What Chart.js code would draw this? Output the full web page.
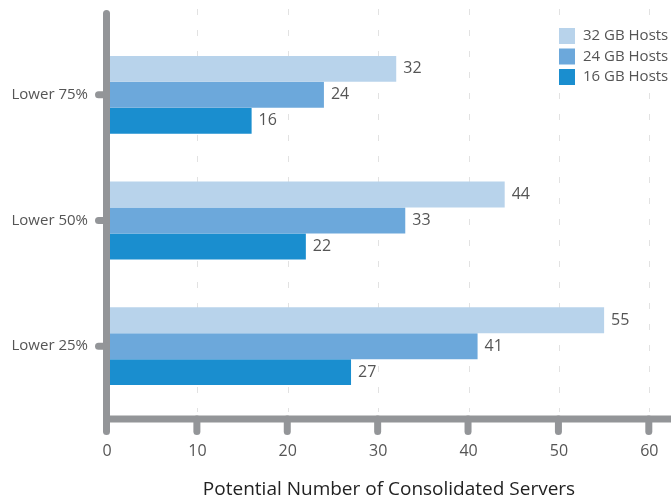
<!DOCTYPE html>
<html>
<head>
<meta charset="utf-8">
<script src="https://cdn.jsdelivr.net/npm/chart.js@4/dist/chart.umd.min.js"></script>
<style>
  body { margin: 0; background: #fff; }
  #wrap { width: 671px; height: 502px; position: relative; }
</style>
</head>
<body>
<div id="wrap"><canvas id="myChartServers"></canvas></div>
<script>
// datos
var categories = ['Lower 75%', 'Lower 50%', 'Lower 25%'];
var seriesLabels = ['32 GB Hosts', '24 GB Hosts', '16 GB Hosts'];
var hosts32 = [32, 44, 55];
var hosts24 = [24, 33, 41];
var hosts16 = [16, 22, 27];
var axisTitle = 'Potential Number of Consolidated Servers';

var axisGray = '#939598';
var textGray = '#555555';

Chart.defaults.font.family = "'Open Sans', sans-serif";

// ejes gruesos, lineas punteadas, etiquetas de valor y leyenda
var framePlugin = {
    id: 'frame',
    beforeDatasetsDraw: function (chart) {
        var ctx = chart.ctx, area = chart.chartArea, x = chart.scales.x;
        ctx.save();
        ctx.strokeStyle = '#e2e2e2';
        ctx.lineWidth = 1;
        ctx.setLineDash([6, 15]);
        x.ticks.forEach(function (t) {
            if (t.value === 0) return;
            var px = Math.round(x.getPixelForValue(t.value)) + 0.5;
            ctx.beginPath();
            ctx.moveTo(px, area.top - 23);
            ctx.lineTo(px, area.bottom + 3);
            ctx.stroke();
        });
        ctx.restore();
    },
    afterDatasetsDraw: function (chart) {
        var ctx = chart.ctx, area = chart.chartArea;
        var x = chart.scales.x, y = chart.scales.y;
        var axisX = area.left - 0.5;
        var axisY = area.bottom + 10;

        ctx.save();
        ctx.strokeStyle = axisGray;
        ctx.lineWidth = 7;
        ctx.lineCap = 'round';

        // eje vertical
        ctx.beginPath();
        ctx.moveTo(axisX, area.top - 18.5);
        ctx.lineTo(axisX, axisY);
        ctx.stroke();

        // marcas de categoria
        y.ticks.forEach(function (t, i) {
            var py = y.getPixelForTick(i);
            ctx.beginPath();
            ctx.moveTo(axisX - 8, py);
            ctx.lineTo(axisX, py);
            ctx.stroke();
        });

        // marcas del eje x
        x.ticks.forEach(function (t) {
            var px = x.getPixelForValue(t.value) - 0.5;
            ctx.beginPath();
            ctx.moveTo(px, axisY);
            ctx.lineTo(px, axisY + 12.5);
            ctx.stroke();
        });

        // eje horizontal
        ctx.lineCap = 'butt';
        ctx.beginPath();
        ctx.moveTo(axisX - 3.5, axisY);
        ctx.lineTo(chart.width, axisY);
        ctx.stroke();

        // etiquetas de valor
        ctx.fillStyle = textGray;
        ctx.font = "16px 'Open Sans', sans-serif";
        ctx.textBaseline = 'middle';
        ctx.textAlign = 'left';
        chart.data.datasets.forEach(function (ds, di) {
            chart.getDatasetMeta(di).data.forEach(function (bar, i) {
                ctx.fillText(ds.data[i], bar.x + 7, bar.y);
            });
        });

        // leyenda
        ctx.font = "15px 'Open Sans', sans-serif";
        chart.data.datasets.forEach(function (ds, di) {
            var top = 28 + di * 20.5;
            ctx.fillStyle = ds.backgroundColor;
            ctx.fillRect(chart.width - 112, top, 16, 16);
            ctx.fillStyle = textGray;
            ctx.fillText(ds.label, chart.width - 88, top + 8);
        });
        ctx.restore();
    }
};

var ctx = document.getElementById('myChartServers').getContext('2d');
var myChart = new Chart(ctx, {
    type: 'bar',
    data: {
        labels: categories,
        datasets: [{
            label: seriesLabels[0],
            data: hosts32,
            backgroundColor: '#b8d3eb'
        },
        {
            label: seriesLabels[1],
            data: hosts24,
            backgroundColor: '#6ca8db'
        },
        {
            label: seriesLabels[2],
            data: hosts16,
            backgroundColor: '#1a8ecf'
        }]
    },
    options: {
        indexAxis: 'y',
        responsive: true,
        maintainAspectRatio: false,
        animation: false,
        categoryPercentage: 0.62,
        barPercentage: 1,
        layout: {
            padding: { top: 32, right: 0, bottom: 0, left: 0 }
        },
        scales: {
            x: {
                min: 0,
                max: 62.4,
                grid: { display: false, drawTicks: false },
                border: { display: false },
                ticks: {
                    stepSize: 10,
                    includeBounds: false,
                    padding: 33,
                    color: textGray,
                    font: { size: 16 }
                },
                title: {
                    display: true,
                    text: axisTitle,
                    color: '#222222',
                    font: { size: 19 },
                    padding: { top: 0, bottom: 1 }
                },
                afterFit: function (scale) {
                    scale.height = 93;
                    // sin relleno extra a los lados, el eje llega al borde
                    scale.paddingLeft = 0;
                    scale.paddingRight = 0;
                }
            },
            y: {
                grid: { display: false, drawTicks: false },
                border: { display: false },
                ticks: {
                    padding: 19,
                    color: textGray,
                    font: { size: 15 }
                },
                afterFit: function (scale) {
                    scale.width = 107;
                }
            }
        },
        plugins: {
            legend: { display: false },
            tooltip: { enabled: false }
        }
    },
    plugins: [framePlugin]
});
</script>
</body>
</html>
